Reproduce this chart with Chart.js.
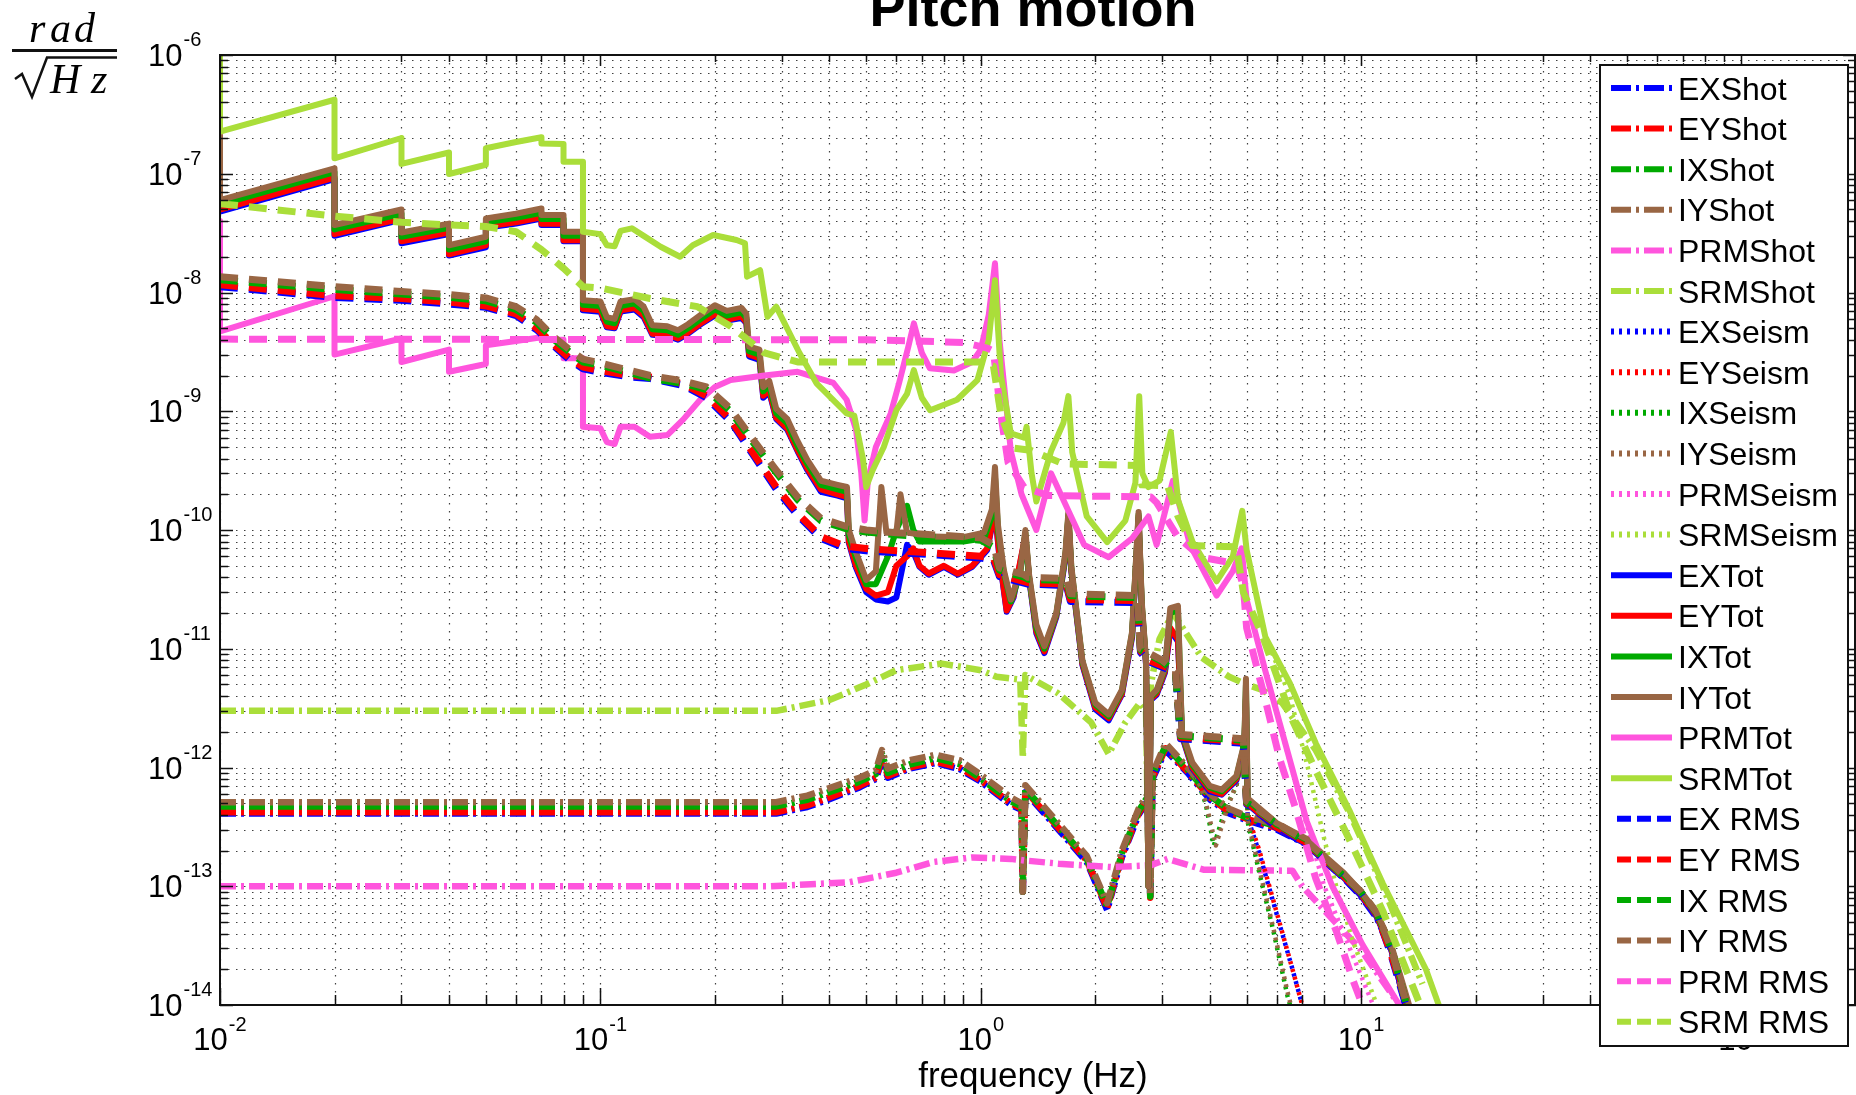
<!DOCTYPE html>
<html>
<head>
<meta charset="utf-8">
<title>Pitch motion</title>
<script src="https://cdn.jsdelivr.net/npm/chart.js"></script>
<style>
  html, body { margin: 0; padding: 0; background: #fff; }
  #wrap { width: 1856px; height: 1095px; }
</style>
</head>
<body>
<div id="wrap"><canvas id="chart" width="1856" height="1095"></canvas></div>
<script>
// axis ticks
const xTickVals = [0.01, 0.1, 1, 10, 100];
const xTickExp = ['-2', '-1', '0', '1', '2'];
const yTickVals = [1e-6, 1e-7, 1e-8, 1e-9, 1e-10, 1e-11, 1e-12, 1e-13, 1e-14];
const yTickExp = ['-6', '-7', '-8', '-9', '-10', '-11', '-12', '-13', '-14'];

const legendLabels = ['EXShot', 'EYShot', 'IXShot', 'IYShot', 'PRMShot', 'SRMShot',
  'EXSeism', 'EYSeism', 'IXSeism', 'IYSeism', 'PRMSeism', 'SRMSeism',
  'EXTot', 'EYTot', 'IXTot', 'IYTot', 'PRMTot', 'SRMTot',
  'EX RMS', 'EY RMS', 'IX RMS', 'IY RMS', 'PRM RMS', 'SRM RMS'];

// [frequency Hz, rad/sqrt(Hz)]
// -- Tot (solid)
const exTot = [[0.01,1.75e-7],[0.01,4.8e-8],[0.02,9.0e-8],[0.02,3.0e-8],[0.03,4.1e-8],[0.03,2.6e-8],[0.04,3.1e-8],[0.04,2.05e-8],[0.05,2.4e-8],[0.05,3.5e-8],[0.06,3.8e-8],[0.07,4.2e-8],[0.07,3.7e-8],[0.08,3.7e-8],[0.08,2.7e-8],[0.09,2.7e-8],[0.09,7.1e-9],[0.1,6.9e-9],[0.104,5.1e-9],[0.109,5.0e-9],[0.113,6.9e-9],[0.123,7.2e-9],[0.13,6.2e-9],[0.137,4.4e-9],[0.15,4.3e-9],[0.16,4.0e-9],[0.17,4.5e-9],[0.185,5.5e-9],[0.2,6.4e-9],[0.215,5.8e-9],[0.235,6.1e-9],[0.242,5.5e-9],[0.246,2.9e-9],[0.262,2.7e-9],[0.268,1.3e-9],[0.278,1.45e-9],[0.29,8.6e-10],[0.31,7.0e-10],[0.33,4.6e-10],[0.35,3.2e-10],[0.38,2.1e-10],[0.42,1.95e-10],[0.445,1.85e-10],[0.45,7.8e-11],[0.47,4.8e-11],[0.5,3.0e-11],[0.53,2.6e-11],[0.57,2.5e-11],[0.6,2.7e-11],[0.64,7.5e-11],[0.665,6.5e-11],[0.69,4.9e-11],[0.73,4.2e-11],[0.8,4.9e-11],[0.87,4.2e-11],[0.95,4.9e-11],[1.04,6.8e-11],[1.09,1.45e-10],[1.12,5.8e-11],[1.17,2.05e-11],[1.22,2.7e-11],[1.31,8.8e-11],[1.34,3.9e-11],[1.4,1.35e-11],[1.47,9.2e-12],[1.58,1.85e-11],[1.67,5.8e-11],[1.7,1.25e-10],[1.73,4.5e-11],[1.85,7.3e-12],[2.0,3.1e-12],[2.17,2.5e-12],[2.35,4.1e-12],[2.5,1.25e-11],[2.6,1.25e-10],[2.65,2.2e-11],[2.72,7.3e-12],[2.76,1e-13],[2.8,3.7e-12],[2.9,4.1e-12],[3.05,6.3e-12],[3.15,1.45e-11],[3.3,1.15e-11],[3.38,1.85e-12],[3.6,9.8e-13],[4.0,6.3e-13],[4.3,5.9e-13],[4.7,7.8e-13],[4.93,1.45e-12],[4.98,3.8e-12],[5.03,4.9e-13],[6.0,3.05e-13],[7.2,2.25e-13],[8.1,1.6e-13],[9.0,1.18e-13],[10.0,8.3e-14],[11.0,5.5e-14],[12.0,2.9e-14],[13.2,9e-15]];
const eyTot = [[0.01,1.8e-7],[0.01,5.0e-8],[0.02,9.3e-8],[0.02,3.1e-8],[0.03,4.2e-8],[0.03,2.7e-8],[0.04,3.2e-8],[0.04,2.1e-8],[0.05,2.5e-8],[0.05,3.6e-8],[0.06,3.9e-8],[0.07,4.3e-8],[0.07,3.8e-8],[0.08,3.8e-8],[0.08,2.75e-8],[0.09,2.75e-8],[0.09,7.3e-9],[0.1,7.1e-9],[0.104,5.2e-9],[0.109,5.1e-9],[0.113,7.1e-9],[0.123,7.4e-9],[0.13,6.4e-9],[0.137,4.5e-9],[0.15,4.4e-9],[0.16,4.1e-9],[0.17,4.6e-9],[0.185,5.6e-9],[0.2,6.6e-9],[0.215,5.9e-9],[0.235,6.3e-9],[0.242,5.6e-9],[0.246,3.0e-9],[0.262,2.8e-9],[0.268,1.35e-9],[0.278,1.5e-9],[0.29,8.8e-10],[0.31,7.2e-10],[0.33,4.7e-10],[0.35,3.3e-10],[0.38,2.2e-10],[0.42,2.0e-10],[0.445,1.9e-10],[0.45,8.0e-11],[0.47,5.0e-11],[0.5,3.2e-11],[0.53,2.8e-11],[0.57,3.0e-11],[0.6,5.0e-11],[0.64,6.0e-11],[0.665,7.0e-11],[0.69,5.0e-11],[0.73,4.3e-11],[0.8,5.0e-11],[0.87,4.3e-11],[0.95,5.0e-11],[1.04,7.0e-11],[1.09,1.5e-10],[1.12,6.0e-11],[1.17,2.1e-11],[1.22,2.8e-11],[1.31,9.0e-11],[1.34,4.0e-11],[1.4,1.4e-11],[1.47,9.5e-12],[1.58,1.9e-11],[1.67,6.0e-11],[1.7,1.3e-10],[1.73,4.6e-11],[1.85,7.5e-12],[2.0,3.2e-12],[2.17,2.6e-12],[2.35,4.2e-12],[2.5,1.3e-11],[2.6,1.3e-10],[2.65,2.3e-11],[2.72,7.5e-12],[2.76,1e-13],[2.8,3.8e-12],[2.9,4.2e-12],[3.05,6.5e-12],[3.15,1.5e-11],[3.3,1.2e-11],[3.38,1.9e-12],[3.6,1.0e-12],[4.0,6.5e-13],[4.3,6.0e-13],[4.7,8.0e-13],[4.93,1.5e-12],[4.98,4.0e-12],[5.03,5.0e-13],[6.0,3.1e-13],[7.2,2.3e-13],[8.1,1.6e-13],[9.0,1.2e-13],[10.0,8.5e-14],[11.0,5.6e-14],[12.0,3.0e-14],[13.3,9e-15]];
const ixTot = [[0.01,1.95e-7],[0.01,5.5e-8],[0.02,1.03e-7],[0.02,3.4e-8],[0.03,4.6e-8],[0.03,2.95e-8],[0.04,3.5e-8],[0.04,2.3e-8],[0.05,2.7e-8],[0.05,3.9e-8],[0.06,4.25e-8],[0.07,4.7e-8],[0.07,4.15e-8],[0.08,4.15e-8],[0.08,3.0e-8],[0.09,3.0e-8],[0.09,7.9e-9],[0.1,7.7e-9],[0.104,5.7e-9],[0.109,5.5e-9],[0.113,7.7e-9],[0.123,8.1e-9],[0.13,7.0e-9],[0.137,4.9e-9],[0.15,4.8e-9],[0.16,4.4e-9],[0.17,5.0e-9],[0.185,6.1e-9],[0.2,7.2e-9],[0.215,6.4e-9],[0.235,6.8e-9],[0.242,6.1e-9],[0.246,3.2e-9],[0.262,3.0e-9],[0.268,1.47e-9],[0.278,1.65e-9],[0.29,9.6e-10],[0.31,7.9e-10],[0.33,5.1e-10],[0.35,3.6e-10],[0.38,2.4e-10],[0.42,2.2e-10],[0.445,2.1e-10],[0.45,9.0e-11],[0.47,5.8e-11],[0.5,3.5e-11],[0.53,3.5e-11],[0.57,6.0e-11],[0.6,1.0e-10],[0.64,1.6e-10],[0.665,1.0e-10],[0.69,8.0e-11],[0.75,8.0e-11],[0.9,8.0e-11],[1.02,8.5e-11],[1.07,1.3e-10],[1.09,2.8e-10],[1.11,1.0e-10],[1.15,4.4e-11],[1.2,2.5e-11],[1.27,4.3e-11],[1.31,9.5e-11],[1.34,4.0e-11],[1.4,1.5e-11],[1.47,1.0e-11],[1.58,1.95e-11],[1.67,6.2e-11],[1.7,1.35e-10],[1.73,4.8e-11],[1.85,7.8e-12],[2.0,3.4e-12],[2.17,2.7e-12],[2.35,4.4e-12],[2.5,1.35e-11],[2.6,1.35e-10],[2.65,2.4e-11],[2.72,7.8e-12],[2.76,1e-13],[2.8,3.9e-12],[2.9,4.4e-12],[3.05,6.8e-12],[3.15,2.0e-11],[3.3,2.1e-11],[3.38,1.95e-12],[3.6,1.05e-12],[4.0,6.8e-13],[4.3,6.3e-13],[4.7,8.3e-13],[4.93,1.55e-12],[4.98,5.0e-12],[5.03,5.3e-13],[6.0,3.3e-13],[7.2,2.45e-13],[8.1,1.7e-13],[9.0,1.25e-13],[10.0,8.8e-14],[11.0,5.8e-14],[12.0,3.1e-14],[13.4,9e-15]];
const iyTot = [[0.01,2.1e-7],[0.01,6.0e-8],[0.02,1.11e-7],[0.02,3.7e-8],[0.03,5.0e-8],[0.03,3.2e-8],[0.04,3.8e-8],[0.04,2.5e-8],[0.05,2.95e-8],[0.05,4.2e-8],[0.06,4.6e-8],[0.07,5.1e-8],[0.07,4.5e-8],[0.08,4.5e-8],[0.08,3.25e-8],[0.09,3.25e-8],[0.09,8.6e-9],[0.1,8.4e-9],[0.104,6.2e-9],[0.109,6.0e-9],[0.113,8.4e-9],[0.123,8.8e-9],[0.13,7.6e-9],[0.137,5.3e-9],[0.15,5.2e-9],[0.16,4.8e-9],[0.17,5.4e-9],[0.185,6.6e-9],[0.2,7.8e-9],[0.215,7.0e-9],[0.235,7.4e-9],[0.242,6.6e-9],[0.246,3.5e-9],[0.262,3.3e-9],[0.268,1.6e-9],[0.278,1.8e-9],[0.29,1.05e-9],[0.31,8.6e-10],[0.33,5.6e-10],[0.35,3.9e-10],[0.38,2.6e-10],[0.42,2.4e-10],[0.445,2.3e-10],[0.45,1.0e-10],[0.47,6.5e-11],[0.5,3.8e-11],[0.53,4.5e-11],[0.548,2.3e-10],[0.565,9.5e-11],[0.6,9.5e-11],[0.615,2.0e-10],[0.64,9.5e-11],[0.75,8.8e-11],[0.9,8.7e-11],[1.02,9.5e-11],[1.07,1.5e-10],[1.09,3.4e-10],[1.11,1.1e-10],[1.15,4.6e-11],[1.2,2.6e-11],[1.27,4.5e-11],[1.31,1.0e-10],[1.34,4.2e-11],[1.4,1.6e-11],[1.47,1.05e-11],[1.58,2.0e-11],[1.67,6.5e-11],[1.7,1.42e-10],[1.73,5.0e-11],[1.85,8.0e-12],[2.0,3.5e-12],[2.17,2.8e-12],[2.35,4.5e-12],[2.5,1.4e-11],[2.6,1.42e-10],[2.65,2.5e-11],[2.72,8.0e-12],[2.76,1e-13],[2.8,4.0e-12],[2.9,4.5e-12],[3.05,7.0e-12],[3.15,2.2e-11],[3.3,2.3e-11],[3.38,2.0e-12],[3.6,1.1e-12],[4.0,7.0e-13],[4.3,6.5e-13],[4.7,8.5e-13],[4.93,1.6e-12],[4.98,5.6e-12],[5.03,5.5e-13],[6.0,3.4e-13],[7.2,2.5e-13],[8.1,1.75e-13],[9.0,1.3e-13],[10.0,9.0e-14],[11.0,6.0e-14],[12.0,3.2e-14],[13.5,9e-15]];
const prmTot = [[0.01,4.0e-8],[0.01,4.7e-9],[0.02,9.3e-9],[0.02,3.0e-9],[0.03,4.1e-9],[0.03,2.6e-9],[0.04,3.3e-9],[0.04,2.15e-9],[0.05,2.5e-9],[0.05,3.6e-9],[0.06,3.9e-9],[0.07,4.2e-9],[0.07,4.0e-9],[0.08,4.0e-9],[0.08,2.8e-9],[0.09,2.8e-9],[0.09,7.4e-10],[0.1,7.2e-10],[0.104,5.5e-10],[0.109,5.3e-10],[0.113,7.4e-10],[0.123,7.4e-10],[0.135,6.1e-10],[0.15,6.3e-10],[0.165,8.5e-10],[0.183,1.25e-9],[0.2,1.6e-9],[0.22,1.83e-9],[0.27,2.0e-9],[0.33,2.15e-9],[0.41,1.73e-9],[0.444,1.25e-9],[0.47,7.0e-10],[0.485,3.05e-10],[0.495,1.2e-10],[0.505,2.6e-10],[0.53,5.0e-10],[0.58,9.6e-10],[0.61,1.73e-9],[0.645,3.5e-9],[0.667,5.5e-9],[0.7,3.1e-9],[0.735,2.3e-9],[0.85,2.2e-9],[0.95,2.6e-9],[1.0,3.3e-9],[1.05,6.5e-9],[1.09,1.76e-8],[1.12,4.0e-9],[1.2,4.6e-10],[1.28,2.0e-10],[1.4,1.0e-10],[1.53,3.0e-10],[1.87,7.5e-11],[2.17,5.9e-11],[2.5,8.5e-11],[2.76,1.3e-10],[2.9,7.5e-11],[3.2,2.6e-10],[3.55,7.5e-11],[4.17,2.8e-11],[4.6,4.5e-11],[4.85,7.0e-11],[5.0,2.6e-11],[5.6,6.5e-12],[6.1,2.4e-12],[7.2,3.5e-13],[8.4,1.0e-13],[10.1,3.2e-14],[12.6,1e-14]];
const srmTot = [[0.01,3e-6],[0.01,2.26e-7],[0.02,4.2e-7],[0.02,1.35e-7],[0.03,2.0e-7],[0.03,1.21e-7],[0.04,1.51e-7],[0.04,9.95e-8],[0.05,1.19e-7],[0.05,1.64e-7],[0.06,1.85e-7],[0.07,2.03e-7],[0.07,1.8e-7],[0.08,1.78e-7],[0.08,1.26e-7],[0.09,1.26e-7],[0.09,3.25e-8],[0.1,3.1e-8],[0.104,2.5e-8],[0.109,2.45e-8],[0.113,3.3e-8],[0.121,3.47e-8],[0.13,3.0e-8],[0.144,2.43e-8],[0.162,2.0e-8],[0.175,2.5e-8],[0.198,3.05e-8],[0.228,2.77e-8],[0.24,2.6e-8],[0.243,1.36e-8],[0.263,1.54e-8],[0.275,6.25e-9],[0.29,7.6e-9],[0.334,3.08e-9],[0.37,1.72e-9],[0.444,9.6e-10],[0.465,9.2e-10],[0.49,4.0e-10],[0.5,2.3e-10],[0.52,3.2e-10],[0.556,5.0e-10],[0.6,1.02e-9],[0.64,1.4e-9],[0.667,2.22e-9],[0.7,1.3e-9],[0.736,1.02e-9],[0.866,1.25e-9],[0.98,1.83e-9],[1.05,4.0e-9],[1.09,1.27e-8],[1.13,2.0e-9],[1.2,6.5e-10],[1.3,6.0e-10],[1.32,7.4e-10],[1.36,3.0e-10],[1.4,1.74e-10],[1.53,4.6e-10],[1.65,8.0e-10],[1.7,1.34e-9],[1.74,4.5e-10],[1.9,1.3e-10],[2.15,7.9e-11],[2.4,1.2e-10],[2.55,2.5e-10],[2.61,1.34e-9],[2.66,3.0e-10],[2.76,2.3e-10],[2.95,2.6e-10],[3.16,6.7e-10],[3.3,1.8e-10],[3.6,8.0e-11],[4.17,3.7e-11],[4.6,6.0e-11],[4.87,1.45e-10],[5.0,6.8e-11],[5.6,1.26e-11],[6.5,5.1e-12],[7.6,1.6e-12],[9.3,4.4e-13],[11.4,1.06e-13],[14.8,2.0e-14],[16,1e-14]];

// -- Seism (dotted): same as Tot below the cut frequency, then these tails
const exSeismTail = [[3.6,9.8e-13],[4.0,6.3e-13],[4.3,5.9e-13],[4.7,7.8e-13],[4.93,1.45e-12],[4.98,3.6e-12],[5.03,3.8e-13],[5.4,1.9e-13],[6.0,5.8e-14],[6.6,2.0e-14],[7.0,1e-14],[7.5,5e-15]];
const eySeismTail = [[3.6,1.0e-12],[4.0,6.5e-13],[4.3,6.0e-13],[4.7,8.0e-13],[4.93,1.5e-12],[4.98,3.8e-12],[5.03,4.0e-13],[5.4,2.0e-13],[6.0,6.0e-14],[6.6,2.0e-14],[7.0,1e-14],[7.5,5e-15]];
const ixSeismTail = [[3.6,1.0e-12],[3.9,5.0e-13],[4.1,2.2e-13],[4.4,4.5e-13],[4.7,7.0e-13],[4.93,1.5e-12],[4.98,5.0e-12],[5.03,3.5e-13],[5.4,1.3e-13],[5.9,4.0e-14],[6.4,1.2e-14],[6.8,6e-15]];
const iySeismTail = [[3.6,1.05e-12],[3.9,5.2e-13],[4.15,2.2e-13],[4.45,4.6e-13],[4.7,7.2e-13],[4.93,1.55e-12],[4.98,5.5e-12],[5.03,3.6e-13],[5.4,1.4e-13],[5.9,4.2e-14],[6.4,1.3e-14],[6.8,6e-15]];
const prmSeismTail = [[5.0,2.6e-11],[5.6,6.5e-12],[6.1,2.4e-12],[7.0,4.5e-13],[8.0,1.0e-13],[9.0,4.0e-14],[10.5,1.2e-14],[11.5,6e-15]];
const srmSeismTail = [[5.6,1.26e-11],[6.5,4.0e-12],[7.3,9.0e-13],[8.0,2.5e-13],[8.6,1.0e-13],[9.5,3.5e-14],[11.0,1e-14],[12.0,5e-15]];
const seismCut = [3.4, 3.4, 3.4, 3.4, 4.9, 5.05];

// -- Shot (dash-dot)
const exShot = [[0.01,4.1e-13],[0.29,4.1e-13],[0.35,4.65e-13],[0.4,5.4e-13],[0.48,6.8e-13],[0.53,8.0e-13],[0.55,1.15e-12],[0.57,8.2e-13],[0.65,9.8e-13],[0.76,1.09e-12],[0.88,9.7e-13],[1.0,7.6e-13],[1.2,4.85e-13],[1.28,4.4e-13],[1.29,9e-14],[1.31,6.2e-13],[1.6,3.0e-13],[1.9,1.6e-13],[2.15,6.3e-14],[2.35,1.75e-13],[2.6,4.0e-13],[2.75,5.3e-13],[2.79,8e-14],[2.83,8.0e-13],[3.06,1.4e-12],[3.5,9.0e-13],[4.0,5.4e-13],[4.5,4.1e-13],[5.0,3.6e-13],[6.0,3.0e-13],[7.2,2.25e-13],[8.1,1.58e-13],[9.0,1.17e-13],[10.0,8.2e-14],[11.0,5.4e-14],[12.0,2.9e-14],[13.2,9e-15]];
const eyShot = [[0.01,4.2e-13],[0.29,4.2e-13],[0.35,4.8e-13],[0.4,5.6e-13],[0.48,7.0e-13],[0.53,8.2e-13],[0.55,1.2e-12],[0.57,8.5e-13],[0.65,1.0e-12],[0.76,1.12e-12],[0.88,1.0e-12],[1.0,7.8e-13],[1.2,5.0e-13],[1.28,4.5e-13],[1.29,9e-14],[1.31,6.4e-13],[1.6,3.1e-13],[1.9,1.65e-13],[2.15,6.5e-14],[2.35,1.8e-13],[2.6,4.1e-13],[2.75,5.5e-13],[2.79,8e-14],[2.83,8.2e-13],[3.06,1.45e-12],[3.5,9.2e-13],[4.0,5.6e-13],[4.5,4.2e-13],[5.0,3.7e-13],[6.0,3.1e-13],[7.2,2.3e-13],[8.1,1.62e-13],[9.0,1.2e-13],[10.0,8.4e-14],[11.0,5.6e-14],[12.0,3.0e-14],[13.2,9e-15]];
const ixShot = [[0.01,4.7e-13],[0.29,4.7e-13],[0.35,5.35e-13],[0.4,6.2e-13],[0.48,7.6e-13],[0.53,8.8e-13],[0.55,1.3e-12],[0.57,9.0e-13],[0.65,1.06e-12],[0.76,1.2e-12],[0.88,1.07e-12],[1.0,8.1e-13],[1.2,5.2e-13],[1.28,4.7e-13],[1.29,9e-14],[1.31,6.6e-13],[1.6,3.2e-13],[1.9,1.7e-13],[2.15,6.8e-14],[2.35,1.9e-13],[2.6,4.3e-13],[2.75,5.7e-13],[2.79,8.2e-14],[2.83,8.6e-13],[3.06,1.52e-12],[3.5,9.6e-13],[4.0,5.8e-13],[4.5,4.4e-13],[5.0,3.8e-13],[6.0,3.2e-13],[7.2,2.35e-13],[8.1,1.66e-13],[9.0,1.22e-13],[10.0,8.6e-14],[11.0,5.7e-14],[12.0,3.05e-14],[13.3,9e-15]];
const iyShot = [[0.01,5.1e-13],[0.29,5.1e-13],[0.35,5.8e-13],[0.4,6.7e-13],[0.48,8.2e-13],[0.53,9.5e-13],[0.55,1.4e-12],[0.57,9.8e-13],[0.65,1.15e-12],[0.76,1.28e-12],[0.88,1.15e-12],[1.0,8.7e-13],[1.2,5.6e-13],[1.28,5.0e-13],[1.29,9e-14],[1.31,7.1e-13],[1.6,3.4e-13],[1.9,1.8e-13],[2.15,7.2e-14],[2.35,2.0e-13],[2.6,4.5e-13],[2.75,6.0e-13],[2.79,8.5e-14],[2.83,9.0e-13],[3.06,1.6e-12],[3.5,1.0e-12],[4.0,6.0e-13],[4.5,4.5e-13],[5.0,3.9e-13],[6.0,3.3e-13],[7.2,2.4e-13],[8.1,1.7e-13],[9.0,1.25e-13],[10.0,8.8e-14],[11.0,5.8e-14],[12.0,3.1e-14],[13.4,9e-15]];
const prmShot = [[0.01,1.0e-13],[0.28,1.0e-13],[0.45,1.08e-13],[0.6,1.3e-13],[0.75,1.6e-13],[0.95,1.75e-13],[1.2,1.7e-13],[1.3,1.65e-13],[1.6,1.55e-13],[2.2,1.45e-13],[2.79,1.5e-13],[3.1,1.7e-13],[3.85,1.38e-13],[6.6,1.35e-13],[7.0,1.0e-13],[8.4,5.3e-14],[10.0,2.9e-14],[12.6,1e-14]];
const srmShot = [[0.01,3.0e-12],[0.29,3.0e-12],[0.4,3.7e-12],[0.5,5.0e-12],[0.6,6.6e-12],[0.79,7.5e-12],[1.0,6.6e-12],[1.1,5.8e-12],[1.27,5.5e-12],[1.29,1.2e-12],[1.31,6.0e-12],[1.6,4.2e-12],[1.95,2.4e-12],[2.17,1.3e-12],[2.4,2.4e-12],[2.62,3.5e-12],[2.72,3.0e-12],[2.76,1.5e-13],[2.8,5.0e-12],[2.95,1.2e-11],[3.2,2.0e-11],[3.35,1.6e-11],[3.8,8.5e-12],[4.5,5.8e-12],[5.0,5.0e-12],[5.5,4.5e-12],[6.2,3.5e-12],[7.6,1.4e-12],[9.3,4.2e-13],[11.4,1.0e-13],[14.5,1.5e-14]];

// -- RMS (dashed)
const exRms = [[0.01,1.12e-8],[0.02,9.1e-9],[0.03,8.6e-9],[0.04,8.0e-9],[0.05,7.5e-9],[0.06,6.4e-9],[0.068,4.85e-9],[0.075,3.6e-9],[0.083,2.7e-9],[0.09,2.28e-9],[0.1,2.13e-9],[0.12,1.94e-9],[0.135,1.89e-9],[0.165,1.65e-9],[0.19,1.3e-9],[0.22,8.2e-10],[0.255,4.05e-10],[0.29,2.2e-10],[0.33,1.33e-10],[0.38,8.5e-11],[0.44,7.0e-11],[0.52,6.6e-11],[0.75,6.2e-11],[1.0,5.8e-11],[1.08,5.6e-11],[1.12,4.05e-11],[1.33,3.5e-11],[1.68,3.4e-11],[1.72,2.5e-11],[2.58,2.45e-11],[2.63,9.3e-12],[2.76,7.8e-12],[3.0,7.0e-12],[3.25,6.3e-12],[3.35,1.75e-12],[4.9,1.6e-12],[5.0,4.9e-13],[6.0,3.2e-13],[7.2,2.25e-13],[8.1,1.6e-13],[10,8.6e-14],[11,5.7e-14],[11.9,2.85e-14],[13.1,1e-14]];
const eyRms = [[0.01,1.16e-8],[0.02,9.4e-9],[0.03,8.9e-9],[0.04,8.3e-9],[0.05,7.7e-9],[0.06,6.6e-9],[0.068,5.0e-9],[0.075,3.7e-9],[0.083,2.8e-9],[0.09,2.35e-9],[0.1,2.2e-9],[0.12,2.0e-9],[0.135,1.95e-9],[0.165,1.7e-9],[0.19,1.35e-9],[0.22,8.5e-10],[0.255,4.2e-10],[0.29,2.3e-10],[0.33,1.38e-10],[0.38,8.8e-11],[0.44,7.3e-11],[0.52,6.9e-11],[0.75,6.4e-11],[1.0,6.0e-11],[1.08,5.8e-11],[1.12,4.2e-11],[1.33,3.6e-11],[1.68,3.5e-11],[1.72,2.6e-11],[2.58,2.55e-11],[2.63,9.6e-12],[2.76,8.0e-12],[3.0,7.2e-12],[3.25,6.5e-12],[3.35,1.8e-12],[4.9,1.65e-12],[5.0,5.0e-13],[6.0,3.3e-13],[7.2,2.3e-13],[8.1,1.64e-13],[10,8.8e-14],[11,5.8e-14],[11.9,2.9e-14],[13.2,1e-14]];
const ixRms = [[0.01,1.28e-8],[0.02,1.06e-8],[0.03,9.7e-9],[0.04,9.1e-9],[0.05,8.5e-9],[0.06,7.2e-9],[0.068,5.6e-9],[0.075,4.1e-9],[0.083,3.15e-9],[0.09,2.6e-9],[0.1,2.45e-9],[0.12,2.1e-9],[0.135,1.9e-9],[0.165,1.72e-9],[0.19,1.52e-9],[0.22,1.0e-9],[0.255,5.2e-10],[0.29,3.05e-10],[0.33,1.8e-10],[0.38,1.2e-10],[0.44,1.03e-10],[0.5,9.6e-11],[0.6,9.1e-11],[0.8,8.6e-11],[1.0,8.2e-11],[1.08,7.2e-11],[1.12,4.6e-11],[1.3,4.0e-11],[1.33,3.85e-11],[1.68,3.75e-11],[1.72,2.8e-11],[2.58,2.7e-11],[2.63,9.8e-12],[3.0,7.8e-12],[3.25,6.3e-12],[3.35,1.85e-12],[4.9,1.7e-12],[5.0,5.1e-13],[6.0,3.35e-13],[7.2,2.35e-13],[8.1,1.67e-13],[10,8.9e-14],[11,5.9e-14],[12,3.0e-14],[13.3,9e-15]];
const iyRms = [[0.01,1.36e-8],[0.02,1.12e-8],[0.03,1.02e-8],[0.04,9.6e-9],[0.05,9.0e-9],[0.06,7.6e-9],[0.068,5.9e-9],[0.075,4.3e-9],[0.083,3.3e-9],[0.09,2.75e-9],[0.1,2.55e-9],[0.12,2.2e-9],[0.135,2.0e-9],[0.165,1.8e-9],[0.19,1.6e-9],[0.22,1.05e-9],[0.255,5.5e-10],[0.29,3.2e-10],[0.33,1.9e-10],[0.38,1.25e-10],[0.44,1.08e-10],[0.5,1.0e-10],[0.6,9.5e-11],[0.8,9.0e-11],[1.0,8.6e-11],[1.08,7.5e-11],[1.12,4.8e-11],[1.3,4.2e-11],[1.33,4.0e-11],[1.68,3.9e-11],[1.72,2.9e-11],[2.58,2.8e-11],[2.63,1.0e-11],[3.0,8.0e-12],[3.25,6.5e-12],[3.35,1.9e-12],[4.9,1.75e-12],[5.0,5.2e-13],[6.0,3.4e-13],[7.2,2.4e-13],[8.1,1.7e-13],[10,9.0e-14],[11,6.0e-14],[12,3.0e-14],[13.3,9e-15]];
const prmRms = [[0.01,4.05e-9],[0.5,4.0e-9],[0.9,3.8e-9],[1.04,3.4e-9],[1.08,3.2e-9],[1.13,9.3e-10],[1.18,3.7e-10],[1.3,2.3e-10],[1.5,1.95e-10],[2.8,1.9e-10],[2.9,1.7e-10],[3.3,8.7e-11],[3.8,5.9e-11],[4.7,5.2e-11],[4.9,3.4e-11],[5.0,1.5e-11],[5.6,3.7e-12],[6.1,1.2e-12],[6.7,4.7e-13],[7.6,1.16e-13],[8.6,4.2e-14],[9.6,1.5e-14],[10.2,9e-15]];
const srmRms = [[0.01,5.6e-8],[0.02,4.4e-8],[0.03,3.9e-8],[0.04,3.7e-8],[0.05,3.6e-8],[0.06,3.25e-8],[0.07,2.3e-8],[0.08,1.6e-8],[0.09,1.12e-8],[0.1,1.09e-8],[0.135,8.9e-9],[0.18,7.6e-9],[0.22,5.2e-9],[0.27,3.1e-9],[0.33,2.6e-9],[1.0,2.6e-9],[1.08,2.4e-9],[1.13,9.3e-10],[1.22,4.9e-10],[1.35,4.7e-10],[1.65,3.6e-10],[2.6,3.5e-10],[2.65,2.4e-10],[3.1,2.35e-10],[3.3,1.3e-10],[3.6,7.4e-11],[4.7,7.2e-11],[4.9,3.0e-11],[5.5,1.3e-11],[6.6,2.5e-12],[7.6,9.4e-13],[9.3,2.5e-13],[11.4,6.2e-14],[14.3,1e-14]];

const colors = ['#0000ff', '#ff0000', '#00aa00', '#996644', '#ff55dd', '#aade3a'];

const totList = [exTot, eyTot, ixTot, iyTot, prmTot, srmTot];
const seismTails = [exSeismTail, eySeismTail, ixSeismTail, iySeismTail, prmSeismTail, srmSeismTail];
const seismList = totList.map((t, i) => t.filter(p => p[0] < seismCut[i]).concat(seismTails[i]));
const shotList = [exShot, eyShot, ixShot, iyShot, prmShot, srmShot];
const rmsList = [exRms, eyRms, ixRms, iyRms, prmRms, srmRms];

const styles = {
  shot:  { dash: [16, 5, 3, 5], width: 6.5, legendDash: [20, 5, 3, 5] },
  seism: { dash: [3, 5], width: 4.5, legendDash: [3, 5] },
  tot:   { dash: [], width: 6, legendDash: [] },
  rms:   { dash: [18, 11], width: 7, legendDash: [14, 6] }
};

const groups = [['shot', shotList], ['seism', seismList], ['tot', totList], ['rms', rmsList]];
const datasets = [];
groups.forEach(function (g) {
  g[1].forEach(function (pts, j) {
    const i = datasets.length;
    datasets.push({
      label: legendLabels[i],
      kind: g[0],
      data: pts.map(p => ({ x: p[0], y: p[1] })),
      borderColor: colors[j],
      backgroundColor: colors[j],
      borderWidth: styles[g[0]].width,
      borderDash: styles[g[0]].dash,
      borderCapStyle: 'butt',
      borderJoinStyle: 'round',
      pointRadius: 0,
      fill: false,
      tension: 0,
      clip: 0,
      order: -i   // later series on top, like the original
    });
  });
});

// minor + major positions for grid and tick marks
function logSteps(lo, hi) {
  const out = [];
  for (let e = Math.floor(Math.log10(lo)); e <= Math.ceil(Math.log10(hi)); e++) {
    for (let m = 1; m <= 9; m++) {
      const v = m * Math.pow(10, e);
      if (v >= lo * 0.999 && v <= hi * 1.001) out.push({ v: v, major: m === 1 });
    }
  }
  return out;
}
const X_MIN = 0.01, X_MAX = 200, Y_MIN = 1e-14, Y_MAX = 1e-6;
const xSteps = logSteps(X_MIN, X_MAX);
const ySteps = logSteps(Y_MIN, Y_MAX);

const SANS = '"Liberation Sans", Arial, Helvetica, sans-serif';

const decor = {
  id: 'decor',
  beforeDatasetsDraw(chart) {
    const ctx = chart.ctx, a = chart.chartArea, xs = chart.scales.x, ys = chart.scales.y;
    ctx.save();
    ctx.strokeStyle = 'rgba(0,0,0,0.75)';
    ctx.lineWidth = 1.2;
    ctx.setLineDash([1.5, 6.5]);
    ctx.beginPath();
    xSteps.forEach(function (s) {
      const px = Math.round(xs.getPixelForValue(s.v)) + 0.5;
      ctx.moveTo(px, a.top); ctx.lineTo(px, a.bottom);
    });
    ySteps.forEach(function (s) {
      const py = Math.round(ys.getPixelForValue(s.v)) + 0.5;
      ctx.moveTo(a.left, py); ctx.lineTo(a.right, py);
    });
    ctx.stroke();
    ctx.restore();
  },
  afterDraw(chart) {
    const ctx = chart.ctx, a = chart.chartArea, xs = chart.scales.x, ys = chart.scales.y;
    ctx.save();

    // frame
    ctx.strokeStyle = '#111';
    ctx.lineWidth = 2;
    ctx.setLineDash([]);
    ctx.strokeRect(a.left, a.top, a.right - a.left - 1, a.bottom - a.top);

    // inner tick marks, all four sides
    ctx.lineWidth = 1.5;
    ctx.beginPath();
    xSteps.forEach(function (s) {
      const px = Math.round(xs.getPixelForValue(s.v)) + 0.5;
      ctx.moveTo(px, a.bottom); ctx.lineTo(px, a.bottom - (s.major ? 17 : 10));
      ctx.moveTo(px, a.top); ctx.lineTo(px, a.top + (s.major ? 11 : 7));
    });
    ySteps.forEach(function (s) {
      const py = Math.round(ys.getPixelForValue(s.v)) + 0.5;
      ctx.moveTo(a.left, py); ctx.lineTo(a.left + (s.major ? 13 : 8), py);
      ctx.moveTo(a.right, py); ctx.lineTo(a.right - (s.major ? 13 : 8), py);
    });
    ctx.stroke();

    // tick labels 10^n
    ctx.fillStyle = '#000';
    ctx.textBaseline = 'alphabetic';
    ctx.textAlign = 'left';
    xTickVals.forEach(function (v, i) {
      const px = xs.getPixelForValue(v);
      ctx.font = '31px ' + SANS;
      const w10 = ctx.measureText('10').width;
      ctx.font = '20px ' + SANS;
      const we = ctx.measureText(xTickExp[i]).width;
      const x0 = px - (w10 + we + 1) / 2;
      ctx.font = '31px ' + SANS;
      ctx.fillText('10', x0, 1050);
      ctx.font = '20px ' + SANS;
      ctx.fillText(xTickExp[i], x0 + w10 + 1, 1031);
    });
    yTickVals.forEach(function (v, i) {
      const py = ys.getPixelForValue(v);
      ctx.font = '31px ' + SANS;
      const w10 = ctx.measureText('10').width;
      ctx.fillText('10', 148, py + 11);
      ctx.font = '20px ' + SANS;
      ctx.fillText(yTickExp[i], 148 + w10 + 1, py - 9);
    });

    // axis label
    ctx.font = '35px ' + SANS;
    ctx.textAlign = 'center';
    ctx.fillText('frequency (Hz)', 1033, 1087);

    // title (cut off by the top edge, as in the original)
    ctx.font = 'bold 54px ' + SANS;
    ctx.fillText('Pitch motion', 1033, 26);

    // y label: rad / sqrt(Hz)
    ctx.textAlign = 'left';
    ctx.font = 'italic 42px "Liberation Serif", "DejaVu Serif", serif';
    ctx.fillText('r', 29, 42);
    ctx.fillText('a', 50, 42);
    ctx.fillText('d', 74, 42);
    ctx.fillText('H', 50, 93);
    ctx.fillText('z', 91, 93);
    ctx.lineWidth = 3;
    ctx.beginPath();
    ctx.moveTo(12, 50.5); ctx.lineTo(117, 50.5);
    ctx.stroke();
    ctx.lineWidth = 2.5;
    ctx.lineJoin = 'miter';
    ctx.beginPath();
    ctx.moveTo(15, 79); ctx.lineTo(22, 74); ctx.lineTo(32, 97); ctx.lineTo(47, 57.5); ctx.lineTo(117, 57.5);
    ctx.stroke();

    // legend box over the right of the plot
    const lx = 1600, ly = 65, lw = 248, lh = 981;
    ctx.fillStyle = '#fff';
    ctx.fillRect(lx, ly, lw, lh);
    ctx.strokeStyle = '#111';
    ctx.lineWidth = 2;
    ctx.strokeRect(lx, ly, lw, lh);
    ctx.font = '32px ' + SANS;
    chart.data.datasets.forEach(function (ds, i) {
      const cy = 88 + i * 40.6;
      const st = styles[ds.kind];
      ctx.strokeStyle = ds.borderColor;
      ctx.lineWidth = 6;
      ctx.lineCap = 'butt';
      ctx.setLineDash(st.legendDash);
      ctx.beginPath();
      if (ds.kind === 'rms') { ctx.moveTo(1617, cy); } else { ctx.moveTo(1611, cy); }
      ctx.lineTo(1672, cy);
      ctx.stroke();
      ctx.setLineDash([]);
      ctx.fillStyle = '#000';
      ctx.fillText(ds.label, 1678, cy + 11.5);
    });

    ctx.restore();
  }
};

new Chart(document.getElementById('chart').getContext('2d'), {
  type: 'line',
  data: { datasets: datasets },
  options: {
    responsive: false,
    maintainAspectRatio: false,
    devicePixelRatio: 1,
    animation: false,
    layout: { padding: { left: 220, top: 55, right: 0, bottom: 90 } },
    scales: {
      x: { type: 'logarithmic', min: X_MIN, max: X_MAX, display: false },
      y: { type: 'logarithmic', min: Y_MIN, max: Y_MAX, display: false }
    },
    plugins: {
      legend: { display: false },
      tooltip: { enabled: false },
      title: { display: false }
    }
  },
  plugins: [decor]
});
</script>
</body>
</html>
